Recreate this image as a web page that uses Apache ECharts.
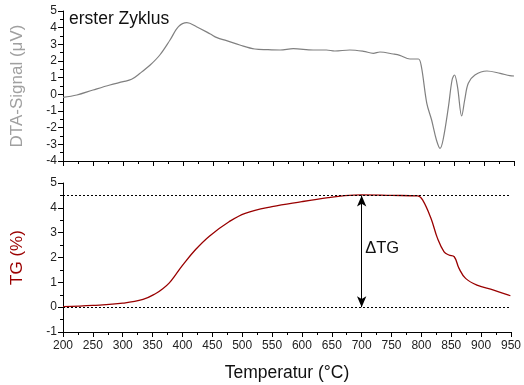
<!DOCTYPE html>
<html>
<head>
<meta charset="utf-8">
<script src="https://cdn.jsdelivr.net/npm/echarts@6/dist/echarts.min.js"></script>
<style>
  html, body { margin: 0; padding: 0; background: #fff; }
  #chart { width: 524px; height: 385px; }
</style>
</head>
<body>
<div id="chart"></div>
<script>
// DTA-Kurve (oberes Diagramm), Temperatur in °C und Signal in µV
const dtaTemp = [200, 223, 250, 278, 300, 314, 328, 345, 361, 378, 392, 406, 422, 445, 456, 472, 494, 519, 540, 561,
  583, 616, 638, 652, 677, 700, 716, 727, 749, 760, 777, 791, 796, 805, 813, 821, 827, 832, 841, 847,
  851, 856, 863, 868, 874, 885, 905, 927, 943, 950];
const dtaSignal = [-0.18, -0.04, 0.26, 0.56, 0.76, 0.90, 1.26, 1.76, 2.36, 3.26, 4.06, 4.30, 4.06, 3.62, 3.40, 3.22, 2.96, 2.72, 2.68, 2.66,
  2.74, 2.66, 2.66, 2.60, 2.66, 2.58, 2.46, 2.54, 2.42, 2.34, 2.12, 2.12, 1.66, -0.54, -1.54, -2.74, -3.24, -2.74, -0.74, 0.86,
  1.16, 0.46, -1.30, -0.34, 0.66, 1.16, 1.40, 1.26, 1.12, 1.10];

// TG-Kurve (unteres Diagramm), Massenänderung in %
const tgTemp = [200, 250, 300, 334, 356, 367, 378, 389, 400, 422, 445, 478, 505, 550, 600, 644, 672, 700, 750, 794,
  802, 816, 827, 838, 846, 855, 863, 874, 893, 921, 949, 950];
const tgValue = [0.02, 0.07, 0.16, 0.31, 0.56, 0.74, 0.98, 1.32, 1.68, 2.32, 2.86, 3.44, 3.78, 4.05, 4.25, 4.41, 4.49, 4.52, 4.50, 4.48,
  4.32, 3.58, 2.77, 2.23, 2.10, 2.03, 1.56, 1.16, 0.89, 0.69, 0.46, 0.45];

// Hilfslinien und ΔTG-Pfeil
const tgLevels = [4.5, 0];
const deltaTemp = 700;
const deltaLabel = 'ΔTG';

const font = '"Liberation Sans", Arial, sans-serif';

const myChart = echarts.init(document.getElementById('chart'), null, { renderer: 'canvas' });

const xAxisBase = {
  type: 'value',
  min: 200,
  max: 950,
  interval: 50,
  axisLine: { show: true, onZero: false, lineStyle: { color: '#000', width: 1 } },
  axisTick: { show: true, inside: false, length: 5, lineStyle: { color: '#000' } },
  minorTick: { show: true, splitNumber: 2, length: 3, lineStyle: { color: '#000' } },
  splitLine: { show: false }
};

const yAxisBase = {
  type: 'value',
  interval: 1,
  axisLine: { show: true, onZero: false, lineStyle: { color: '#000', width: 1 } },
  axisTick: { show: true, inside: false, length: 5, lineStyle: { color: '#000' } },
  minorTick: { show: true, splitNumber: 2, length: 3, lineStyle: { color: '#000' } },
  splitLine: { show: false },
  axisLabel: { color: '#222', fontSize: 12, fontFamily: font, margin: 6 },
  nameLocation: 'middle',
  nameRotate: 90
};

const option = {
  animation: false,
  backgroundColor: '#fff',
  grid: [
    { left: 63, right: 10, top: 11, height: 150 },
    { left: 63, right: 10, top: 183, height: 149 }
  ],
  xAxis: [
    Object.assign({}, xAxisBase, { gridIndex: 0, axisLabel: { show: false } }),
    Object.assign({}, xAxisBase, {
      gridIndex: 1,
      axisLabel: { color: '#222', fontSize: 12, fontFamily: font, margin: 8 },
      name: 'Temperatur (°C)',
      nameLocation: 'middle',
      nameGap: 32,
      nameTextStyle: { color: '#111', fontSize: 17.5, fontFamily: font }
    })
  ],
  yAxis: [
    Object.assign({}, yAxisBase, {
      gridIndex: 0,
      min: -4,
      max: 5,
      name: 'DTA-Signal (μV)',
      nameGap: 37,
      nameTextStyle: { color: '#a0a0a0', fontSize: 17, fontFamily: font }
    }),
    Object.assign({}, yAxisBase, {
      gridIndex: 1,
      min: -1,
      max: 5,
      name: 'TG (%)',
      nameGap: 37,
      nameTextStyle: { color: '#9b0000', fontSize: 17, fontFamily: font }
    })
  ],
  graphic: [
    {
      type: 'text',
      left: 69,
      top: 10,
      style: { text: 'erster Zyklus', fill: '#111', fontSize: 17.5, fontFamily: font }
    }
  ],
  series: [
    {
      name: 'DTA',
      type: 'line',
      xAxisIndex: 0,
      yAxisIndex: 0,
      data: dtaTemp.map((t, i) => [t, dtaSignal[i]]),
      showSymbol: false,
      smooth: 0.35,
      lineStyle: { color: '#808080', width: 1.2 }
    },
    {
      name: 'TG',
      type: 'line',
      xAxisIndex: 1,
      yAxisIndex: 1,
      data: tgTemp.map((t, i) => [t, tgValue[i]]),
      showSymbol: false,
      smooth: 0.4,
      z: 3,
      lineStyle: { color: '#990000', width: 1.3 },
      markLine: {
        silent: true,
        animation: false,
        symbol: ['none', 'none'],
        label: { show: false },
        lineStyle: { color: '#000', type: [2, 2], width: 1 },
        data: tgLevels.map(v => ({ yAxis: v }))
      }
    },
    {
      // Doppelpfeil für ΔTG
      name: 'dTG',
      type: 'line',
      xAxisIndex: 1,
      yAxisIndex: 1,
      data: [],
      markLine: {
        silent: true,
        animation: false,
        symbol: ['arrow', 'arrow'],
        symbolSize: [7, 11],
        label: { show: false },
        lineStyle: { color: '#000', type: 'solid', width: 1 },
        data: [[{ coord: [deltaTemp, tgLevels[1]] }, { coord: [deltaTemp, tgLevels[0]] }]]
      },
      markPoint: {
        silent: true,
        animation: false,
        symbol: 'circle',
        symbolSize: 0,
        label: { show: true, position: 'right', distance: 3, color: '#111', fontSize: 16.5, fontFamily: font, formatter: deltaLabel },
        data: [{ coord: [deltaTemp + 1, 2.35] }]
      }
    }
  ]
};

myChart.setOption(option);
</script>
</body>
</html>
